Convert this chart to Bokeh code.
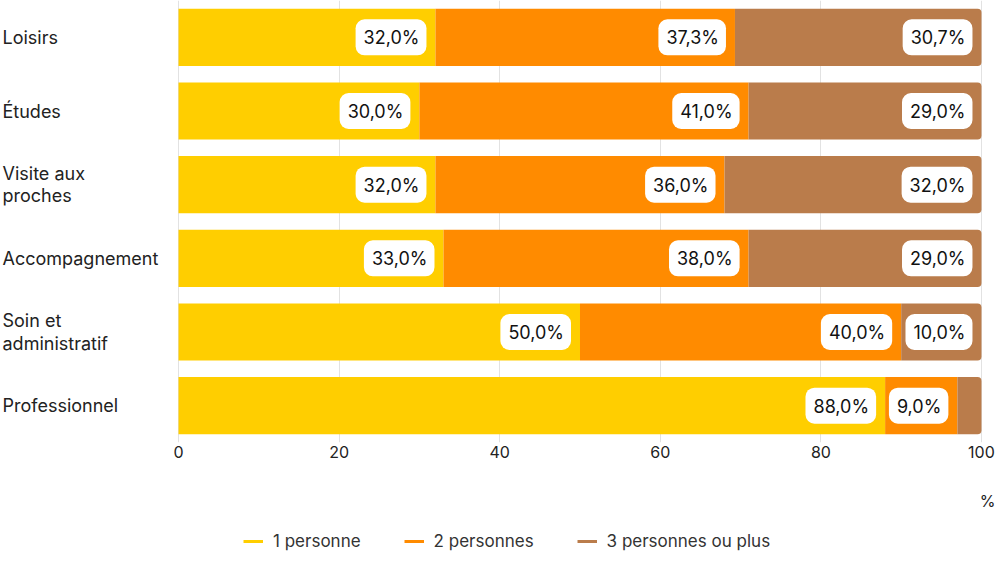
from bokeh.plotting import figure
from bokeh.layouts import column
from bokeh.models import FactorRange, Range1d, FixedTicker, Legend, LegendItem, Label
from bokeh.core.properties import value
from bokeh.embed import file_html
from bokeh.resources import INLINE

categories = ["Loisirs", "Études", "Visite aux\nproches", "Accompagnement",
              "Soin et\nadministratif", "Professionnel"]
un = [32.0, 30.0, 32.0, 33.0, 50.0, 88.0]
deux = [37.3, 41.0, 36.0, 38.0, 40.0, 9.0]
trois = [30.7, 29.0, 32.0, 29.0, 10.0, 3.0]
series_names = ["1 personne", "2 personnes", "3 personnes ou plus"]
colors = ["#FFCE00", "#FF8B00", "#BA7C4B"]
x_ticks = [0, 20, 40, 60, 80, 100]

FONT = "Inter"
W = 1000
H1, H2 = 466, 96
X_START, X_END = -22.17, 102.37   # frame spans whole width; category labels sit left of 0

p = figure(width=W, height=H1, output_backend="svg", toolbar_location=None,
           y_range=FactorRange(factors=list(reversed(categories)), range_padding=0),
           x_range=Range1d(X_START, X_END),
           min_border_left=0, min_border_right=0, min_border_top=0,
           min_border_bottom=24)
p.outline_line_color = None
p.yaxis.visible = False

series = [un, deux, trois]
lefts = [[0.0] * len(categories),
         list(un),
         [u + d for u, d in zip(un, deux)]]
renderers = []
for i, vals in enumerate(series):
    left = lefts[i]
    right = [l + v for l, v in zip(left, vals)]
    kw = {}
    if i == 2:
        kw["border_radius"] = (0, 4, 4, 0)
    r = p.hbar(y=categories, left=left, right=right, height=0.775,
               fill_color=colors[i], line_color=None, **kw)
    renderers.append(r)
    lab_x, lab_y, lab_t = [], [], []
    for c, rr, v in zip(categories, right, vals):
        if v >= 5:
            lab_x.append(rr)
            lab_y.append(c)
            lab_t.append(f"{v:.1f}".replace(".", ",") + "%")
    p.text(x=lab_x, y=lab_y, text=lab_t, text_align="right", text_baseline="middle",
           x_offset=-9, text_font=value(FONT), text_font_size="18px",
           text_color="#111111", background_fill_color="white",
           border_radius=9, padding=(8, 7, 8, 7))

# category labels, left aligned at the left edge
p.text(x=[X_START + 0.25] * len(categories), y=categories, text=categories,
       text_align="left", text_baseline="middle", text_font=value(FONT),
       text_font_size="18px", text_color="#222222", text_line_height=1.05)

p.xaxis.ticker = FixedTicker(ticks=x_ticks)
p.xaxis.axis_line_color = None
p.xaxis.major_tick_line_color = None
p.xaxis.minor_tick_line_color = None
p.xaxis.major_label_standoff = -3
p.xaxis.major_label_text_font = FONT
p.xaxis.major_label_text_font_size = "16px"
p.xaxis.major_label_text_color = "#222222"

p.xgrid.grid_line_color = "#E2E2E2"
p.xgrid.ticker = FixedTicker(ticks=x_ticks)
p.ygrid.grid_line_color = None

# lower strip: unit label and legend
p2 = figure(width=W, height=H2, output_backend="svg", toolbar_location=None,
            x_range=p.x_range, y_range=Range1d(0, H2),
            min_border_left=0, min_border_right=0, min_border_top=0,
            min_border_bottom=0)
p2.outline_line_color = None
p2.axis.visible = False
p2.grid.visible = False

p2.add_layout(Label(x=100, y=H2 - 34, text="%", text_align="right",
                    text_baseline="middle", x_offset=14, text_font=FONT,
                    text_font_size="16px", text_color="#222222"))

# legend proxies: single-point lines (draw nothing themselves)
proxies = [p2.line(x=[0], y=[-10], line_color=c, line_width=3) for c in colors]
legend = Legend(items=[LegendItem(label=n, renderers=[r]) for n, r in zip(series_names, proxies)],
                orientation="horizontal", location=(243, H2 - 75 - 10), padding=0,
                glyph_width=20, label_standoff=10, spacing=43,
                label_text_font=FONT, label_text_font_size="17px",
                label_text_color="#333333", border_line_color=None,
                background_fill_alpha=0)
p2.add_layout(legend, "center")

layout = column(p, p2, spacing=0)
open("out.html", "w").write(file_html(layout, INLINE))
